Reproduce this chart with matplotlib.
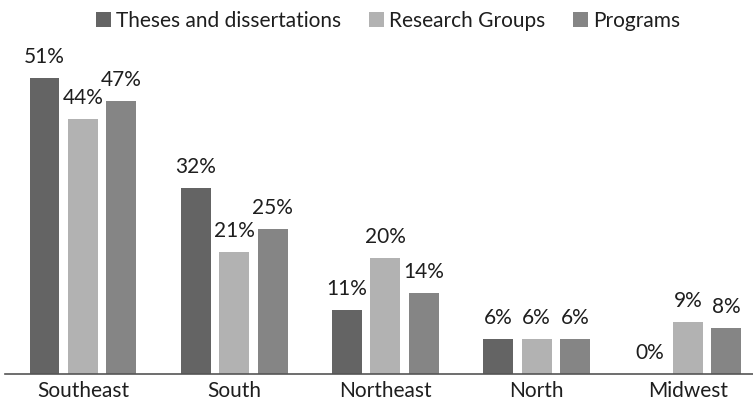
import numpy as np
import matplotlib.pyplot as plt

plt.rcParams['font.family'] = ['Lato', 'DejaVu Sans']

regions = ['Southeast', 'South', 'Northeast', 'North', 'Midwest']
series_names = ['Theses and dissertations', 'Research Groups', 'Programs']
theses = [51, 32, 11, 6, 0]
groups = [44, 21, 20, 6, 9]
programs = [47, 25, 14, 6, 8]
colors = ['#646464', '#b2b2b2', '#858585']

fig = plt.figure(figsize=(7.53, 4.01), dpi=100)
ax = fig.add_axes([5 / 753, 27 / 401, 748 / 753, 348 / 401])

x = np.arange(len(regions))
width = 0.198
step = 0.254
for i, (name, vals, col) in enumerate(zip(series_names, [theses, groups, programs], colors)):
    pos = x + (i - 1) * step
    ax.bar(pos, vals, width, color=col, label=name)
    for px, v in zip(pos, vals):
        ax.annotate(f'{v}%', (px, v), xytext=(0, 10.8), textcoords='offset points',
                    ha='center', va='baseline', fontsize=15, color='#1e1e1e')

ax.set_xlim(-0.515, 4.43)
ax.set_ylim(0, 60)
ax.set_xticks(x)
ax.set_xticklabels(regions, fontsize=15, color='#1e1e1e')
ax.tick_params(axis='x', length=0, pad=5)
ax.set_yticks([])
for s in ['top', 'right', 'left']:
    ax.spines[s].set_visible(False)
ax.spines['bottom'].set_color('#555555')
ax.spines['bottom'].set_linewidth(1.2)

fig.legend(loc='center', bbox_to_anchor=(388 / 753, 1 - 21 / 401), ncol=3, frameon=False,
           fontsize=15, handlelength=0.7, handleheight=0.7, handletextpad=0.25,
           columnspacing=1.35, labelcolor='#1e1e1e')

fig.savefig('out.png', dpi=100)
